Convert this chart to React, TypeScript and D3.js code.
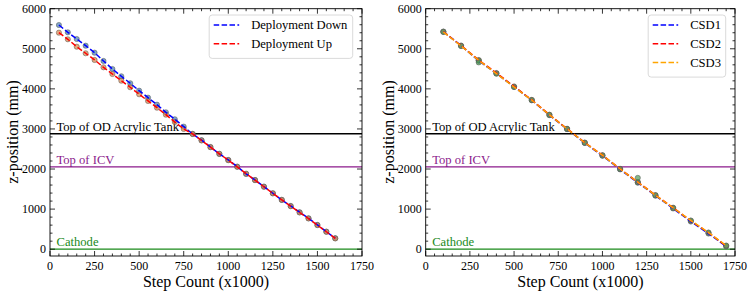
import React, { useRef, useEffect } from "react";
import * as d3 from "d3";

// Deployment scan (left panel)
const deployX = [50, 100, 150, 200, 250, 300, 350, 400, 450, 500, 550, 600, 650, 700, 750, 800,
  850, 900, 950, 1000, 1050, 1100, 1150, 1200, 1250, 1300, 1350, 1400, 1450, 1500, 1550, 1600];
const downZ = [5593, 5411, 5244, 5077, 4903, 4696, 4496, 4314, 4140, 3955, 3780, 3605, 3415, 3242, 3058, 2875,
  2720, 2550, 2376, 2227, 2060, 1877, 1728, 1561, 1396, 1229, 1079, 922, 772, 606, 438, 274];
const upZ = [5402, 5237, 5052, 4888, 4721, 4538, 4371, 4204, 4040, 3865, 3698, 3531, 3356, 3174, 3000, 2875,
  2712, 2545, 2380, 2220, 2055, 1885, 1722, 1558, 1392, 1232, 1072, 915, 765, 600, 435, 268];

// CSD scans (right panel)
const csdX = [100, 200, 300, 400, 500, 600, 700, 800, 900, 1000, 1100, 1200, 1300, 1400, 1500, 1600, 1700];
const csd1Z = [5430, 5075, 4700, 4385, 4050, 3715, 3345, 2995, 2650, 2330, 1990, 1660, 1335, 1015, 690, 390, 70];
const csd2Z = [5425, 5080, 4720, 4395, 4060, 3725, 3355, 3005, 2660, 2345, 2005, 1675, 1350, 1035, 710, 410, 85];
const csd3Z = [5420, 5070, 4710, 4380, 4045, 3720, 3350, 3000, 2655, 2340, 2000, 1670, 1345, 1030, 715, 415, 90];
const csdOutlierX = [300, 1200];
const csdOutlierZ = [4660, 1780];

const refLabels = ["Top of OD Acrylic Tank", "Top of ICV", "Cathode"];
const refZ = [2880, 2056, 0];
const refColors = ["#000000", "#8b1a8b", "#1a8a1a"];

const xTicks = [0, 250, 500, 750, 1000, 1250, 1500, 1750];
const yTicks = [0, 1000, 2000, 3000, 4000, 5000, 6000];

const W = 754, H = 295;
const FONT = "Liberation Serif, Times New Roman, Times, serif";

type Series = { name: string; x: number[]; z: number[]; line: string; marker: string };

function drawPanel(svg: any, left: number, right: number, series: Series[], extra: { x: number[]; z: number[]; marker: string } | null, legendW: number) {
  const top = 8.7, bottom = 256;
  const x = d3.scaleLinear().domain([0, 1750]).range([left, right]);
  const y = d3.scaleLinear().domain([-170, 6000]).range([bottom, top]);
  const g = svg.append("g");

  // reference lines
  refZ.forEach((z, i) => {
    g.append("line").attr("x1", left).attr("x2", right).attr("y1", y(z)).attr("y2", y(z))
      .attr("stroke", refColors[i]).attr("stroke-width", 1.3);
    g.append("text").attr("x", left + 6.5).attr("y", y(z) - 3).attr("font-family", FONT)
      .attr("font-size", 12.6).attr("fill", refColors[i]).text(refLabels[i]);
  });

  // markers
  series.forEach(s => {
    g.append("g").selectAll("circle").data(s.x).join("circle")
      .attr("cx", (d: number) => x(d)).attr("cy", (_: number, i: number) => y(s.z[i])).attr("r", 2.6)
      .attr("fill", s.marker).attr("fill-opacity", 0.7).attr("stroke", "#555").attr("stroke-width", 0.5);
  });
  if (extra) {
    g.append("g").selectAll("circle").data(extra.x).join("circle")
      .attr("cx", (d: number) => x(d)).attr("cy", (_: number, i: number) => y(extra.z[i])).attr("r", 2.6)
      .attr("fill", extra.marker).attr("fill-opacity", 0.7).attr("stroke", "#555").attr("stroke-width", 0.5);
  }

  // dashed lines
  series.forEach(s => {
    const line = d3.line<number>().x(d => x(d)).y((_, i) => y(s.z[i]));
    g.append("path").attr("d", line(s.x)).attr("fill", "none").attr("stroke", s.line)
      .attr("stroke-width", 1.5).attr("stroke-dasharray", "5.5,2.4");
  });

  // ticks on all sides, inward
  const xMinor = d3.range(0, 1751, 50).filter(v => v % 250 !== 0);
  const yMinor = d3.range(-0, 6001, 200).filter(v => v % 1000 !== 0);
  const tk = g.append("g").attr("stroke", "#000").attr("stroke-width", 0.8);
  xTicks.forEach(v => {
    tk.append("line").attr("x1", x(v)).attr("x2", x(v)).attr("y1", bottom).attr("y2", bottom - 5);
    tk.append("line").attr("x1", x(v)).attr("x2", x(v)).attr("y1", top).attr("y2", top + 5);
  });
  xMinor.forEach(v => {
    tk.append("line").attr("x1", x(v)).attr("x2", x(v)).attr("y1", bottom).attr("y2", bottom - 2.5);
    tk.append("line").attr("x1", x(v)).attr("x2", x(v)).attr("y1", top).attr("y2", top + 2.5);
  });
  yTicks.forEach(v => {
    tk.append("line").attr("x1", left).attr("x2", left + 5).attr("y1", y(v)).attr("y2", y(v));
    tk.append("line").attr("x1", right).attr("x2", right - 5).attr("y1", y(v)).attr("y2", y(v));
  });
  yMinor.forEach(v => {
    tk.append("line").attr("x1", left).attr("x2", left + 2.5).attr("y1", y(v)).attr("y2", y(v));
    tk.append("line").attr("x1", right).attr("x2", right - 2.5).attr("y1", y(v)).attr("y2", y(v));
  });

  // tick labels
  xTicks.forEach(v => {
    g.append("text").attr("x", x(v)).attr("y", bottom + 14).attr("text-anchor", "middle")
      .attr("font-family", FONT).attr("font-size", 12).text(v);
  });
  yTicks.forEach(v => {
    g.append("text").attr("x", left - 4).attr("y", y(v) + 4.2).attr("text-anchor", "end")
      .attr("font-family", FONT).attr("font-size", 12).text(v);
  });

  // frame
  g.append("rect").attr("x", left).attr("y", top).attr("width", right - left).attr("height", bottom - top)
    .attr("fill", "none").attr("stroke", "#000").attr("stroke-width", 0.9);

  // axis labels
  g.append("text").attr("x", (left + right) / 2).attr("y", 287).attr("text-anchor", "middle")
    .attr("font-family", FONT).attr("font-size", 16).text("Step Count (x1000)");
  g.append("text").attr("transform", `translate(${left - 32},${132}) rotate(-90)`).attr("text-anchor", "middle")
    .attr("font-family", FONT).attr("font-size", 16).text("z-position (mm)");

  // legend
  const lx = right - 9.3 - legendW, ly = 15;
  const lh = 6 + series.length * 18.7;
  g.append("rect").attr("x", lx).attr("y", ly).attr("width", legendW).attr("height", lh).attr("rx", 3)
    .attr("fill", "#fff").attr("fill-opacity", 0.85).attr("stroke", "#d0d0d0").attr("stroke-width", 0.8);
  series.forEach((s, i) => {
    const yy = ly + 10 + i * 18.7;
    g.append("line").attr("x1", lx + 4.5).attr("x2", lx + 30).attr("y1", yy).attr("y2", yy)
      .attr("stroke", s.line).attr("stroke-width", 1.5).attr("stroke-dasharray", "5.5,2.4");
    g.append("text").attr("x", lx + 42).attr("y", yy + 4.3).attr("font-family", FONT)
      .attr("font-size", 12.6).text(s.name);
  });
}

export default function App() {
  const svgRef = useRef<SVGSVGElement>(null);

  useEffect(() => {
    const svg = d3.select(svgRef.current);
    svg.selectAll("*").remove();
    svg.append("rect").attr("width", W).attr("height", H).attr("fill", "#fff");

    drawPanel(svg, 50, 362, [
      { name: "Deployment Down", x: deployX, z: downZ, line: "#0000ff", marker: "#4a7fb0" },
      { name: "Deployment Up", x: deployX, z: upZ, line: "#ff0000", marker: "#d9844a" },
    ], null, 143.5);

    drawPanel(svg, 425.7, 735, [
      { name: "CSD1", x: csdX, z: csd1Z, line: "#0000ff", marker: "#4a7fb0" },
      { name: "CSD2", x: csdX, z: csd2Z, line: "#ff0000", marker: "#d9844a" },
      { name: "CSD3", x: csdX, z: csd3Z, line: "#ffa500", marker: "#4f9a55" },
    ], { x: csdOutlierX, z: csdOutlierZ, marker: "#4f9a55" }, 77.5);
  }, []);

  return (
    <div style={{ position: "absolute", left: 0, top: 0 }}>
      <svg ref={svgRef} width={W} height={H}></svg>
    </div>
  );
}
